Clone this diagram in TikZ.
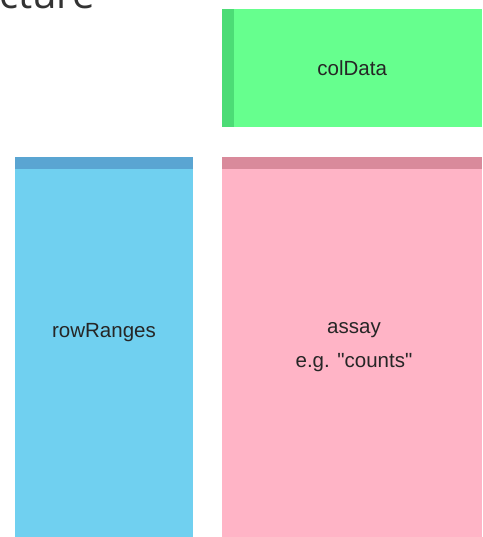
\documentclass[tikz,border=0pt]{standalone}
\usepackage{fontspec}
\newfontfamily\labelfont{Liberation Sans}
\newfontfamily\headfont{Open Sans}
\usetikzlibrary{positioning}

\definecolor{colgreen}{RGB}{102,255,142}
\definecolor{colgreendark}{RGB}{76,220,118}
\definecolor{rowblue}{RGB}{112,208,240}
\definecolor{rowbluedark}{RGB}{90,165,210}
\definecolor{assaypink}{RGB}{255,180,198}
\definecolor{assaypinkdark}{RGB}{217,138,155}

\begin{document}
\begin{tikzpicture}[
    x=1pt, y=-1pt,
    panel/.style={
        fill=#1,
        inner sep=0pt,
        anchor=north west
    },
    label/.style={
        font=\labelfont\fontsize{20.5}{24}\selectfont,
        text=black!85,
        align=center
    }
]
\useasboundingbox (0,0) rectangle (482,537);
\clip (0,0) rectangle (482,537);

\node[anchor=base west, inner sep=0pt, font=\headfont\fontsize{40}{42}\selectfont,
    text=black!80] (title) at (-1,9) {cture};

\node[panel=colgreen, minimum width=260pt, minimum height=118pt] (coldata) at (222,9) {};
\node[panel=rowblue, minimum width=178pt, minimum height=380pt] (rowranges) at (15,157) {};
\node[panel=assaypink, minimum width=260pt, minimum height=380pt] (assay) at (222,157) {};

% darker edges
\fill[colgreendark] (coldata.north west) rectangle ++(12,118);
\fill[rowbluedark] (rowranges.north west) rectangle ++(178,12);
\fill[assaypinkdark] (assay.north west) rectangle ++(260,12);

\node[label] (coldatatext) at (coldata.center) {colData};
\node[label] (rowrangestext) at (104,333) {rowRanges};
\node[label] (assaytext) at (354,347) {assay\\[10pt]e.g. "counts"};

\end{tikzpicture}
\end{document}
